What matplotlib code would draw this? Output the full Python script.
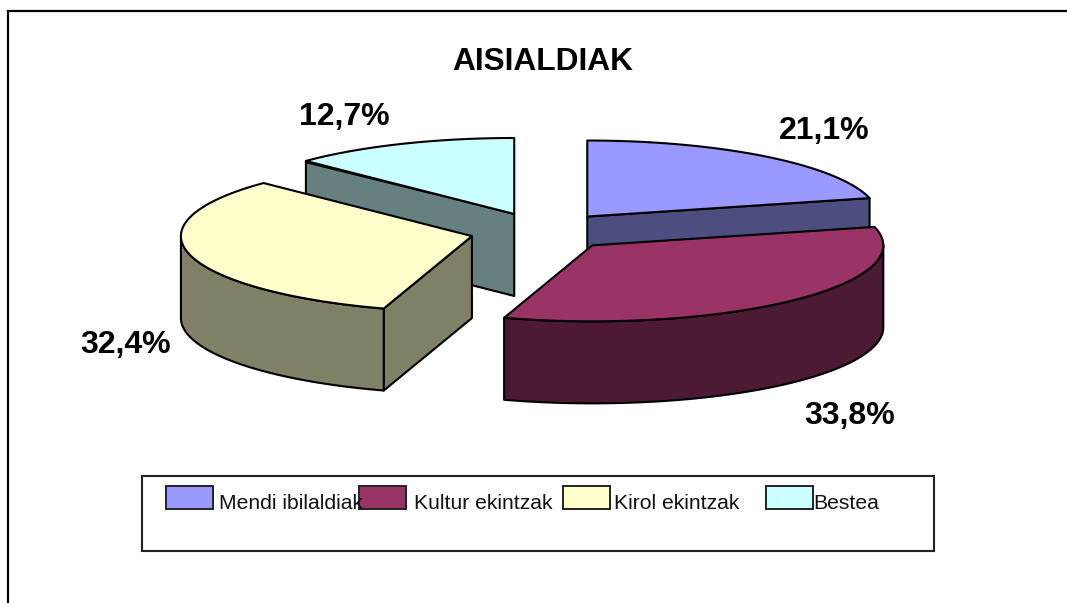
import numpy as np

import matplotlib

matplotlib.use("Agg")

import matplotlib.pyplot as plt

from matplotlib.patches import Polygon, Rectangle

plt.rcParams['font.family'] = ['Liberation Sans', 'DejaVu Sans']

# data
labels = ["Mendi ibilaldiak", "Kultur ekintzak", "Kirol ekintzak", "Bestea"]
values = [21.1, 33.8, 32.4, 12.7]

# style
top_colors = ["#9999FF", "#993366", "#FFFFCC", "#CCFFFF"]
side_colors = ["#4D4D80", "#4D1A33", "#808066", "#668080"]

title_text = "AISIALDIAK"

# where the percent labels sit, same order as values
label_pos = [(824, 131), (850, 416), (126, 345), (344, 117)]

# legend layout, swatch left edge and text left edge
swatch_x = [166, 359, 563, 766]
legend_text_x = [219, 414, 614, 813]

# pie geometry in pixels
cx, cy = 542.5, 231.5
rx, ry = 291, 76
depth = 82
explode = 0.25


def rim(t, ox, oy):
    t = np.radians(t)
    return np.column_stack([ox + rx * np.sin(t), oy - ry * np.cos(t)])


def face(ax, pts, color, z):
    ax.add_patch(Polygon(pts, closed=True, facecolor=color, edgecolor="black", linewidth=1.5, joinstyle="round", zorder=z))


fig = plt.figure(figsize=(10.67, 6.03), dpi=100)
ax = fig.add_axes([0, 0, 1, 1])
ax.set_xlim(0, 1067)
ax.set_ylim(603, 0)
ax.axis("off")

# outer chart border, right and bottom are cut off in the original
ax.plot([8, 8, 1067], [603, 11, 11], color="black", linewidth=1.6, solid_joinstyle="miter", zorder=1)

edges = np.concatenate([[0], np.cumsum(values)]) / sum(values) * 360
draw_order = [3, 0, 2, 1]  # back to front

for n, i in enumerate(draw_order):
    t0, t1 = edges[i], edges[i + 1]
    mid = np.radians((t0 + t1) / 2)
    ox = cx + explode * rx * np.sin(mid)
    oy = cy - explode * ry * np.cos(mid)
    apex = np.array([[ox, oy]])
    down = np.array([0, depth])
    z = 2 + n * 3

    arc = rim(np.linspace(t0, t1, 120), ox, oy)

    # flat cut faces that look at the viewer
    if i == 0:
        p = arc[-1:]
        face(ax, np.vstack([apex, p, p + down, apex + down]), side_colors[i], z)
    if i == 2:
        p = arc[:1]
        face(ax, np.vstack([apex, p, p + down, apex + down]), side_colors[i], z)
    if i == 3:
        p = arc[:1]
        face(ax, np.vstack([apex, p, p + down, apex + down]), side_colors[i], z)
        # dark sliver of the outer wall along the cut
        ax.plot([p[0, 0], ox - 0.4 * (ox - p[0, 0])], [p[0, 1] + 1.5, oy - 0.4 * (oy - p[0, 1]) + 0.5], color="black", linewidth=1.2, zorder=z + 1)

    # round outer wall
    if i in (1, 2):
        vis = np.linspace(max(t0, 90), t1, 100) if i == 1 else np.linspace(t0, 270, 100)
        wall = rim(vis, ox, oy)
        face(ax, np.vstack([wall, (wall + down)[::-1]]), side_colors[i], z + 1)

    face(ax, np.vstack([apex, arc]), top_colors[i], z + 2)

ax.text(543, 61.5, title_text, fontsize=22.8, fontweight="bold", ha="center", va="center", zorder=30)

for v, (x, y) in zip(values, label_pos):
    ax.text(x, y, f"{v:.1f}%".replace(".", ","), fontsize=23, fontweight="bold", ha="center", va="center", zorder=30)

# legend
ax.add_patch(Rectangle((142, 476), 792, 75, facecolor="white", edgecolor="#222222", linewidth=1.5, zorder=20))

for name, col, sx, tx in zip(labels, top_colors, swatch_x, legend_text_x):
    ax.add_patch(Rectangle((sx, 486), 47, 23, facecolor=col, edgecolor="#222222", linewidth=1.4, zorder=21))
    ax.text(tx, 509, name, fontsize=15.2, ha="left", va="baseline", color="#111111", zorder=22)

plt.savefig("out.png", dpi=100, facecolor="white")
plt.close()
